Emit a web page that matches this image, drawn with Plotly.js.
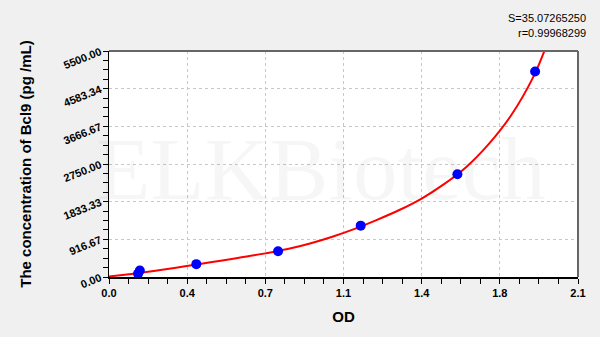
<!DOCTYPE html>
<html>
<head>
<meta charset="utf-8">
<script src="https://cdn.plot.ly/plotly-3.0.1.min.js"></script>
<style>html,body{margin:0;padding:0;background:#f0f0f0;}#chart{width:600px;height:337px;}</style>
</head>
<body>
<div id="chart"></div>
<script>
// Standard points (OD vs concentration)
const odValues = [0.130, 0.138, 0.391, 0.757, 1.127, 1.560, 1.908];
const concValues = [78.13, 156.25, 312.5, 625, 1250, 2500, 5000];

// Fitted curve
const fitOD = [0, 0.1, 0.2, 0.3, 0.4, 0.5, 0.6, 0.7, 0.8, 0.9, 1.0, 1.1, 1.2, 1.3, 1.4, 1.5, 1.6, 1.7, 1.8, 1.9, 1.96];
const fitConc = [12, 75, 145, 225, 312, 398, 485, 575, 680, 815, 980, 1170, 1390, 1630, 1910, 2260, 2680, 3234, 3930, 4870, 5650];

// Axis ticks
const xTickVals = [0, 0.35, 0.7, 1.05, 1.4, 1.75, 2.1];
const xTickText = ["0.0", "0.4", "0.7", "1.1", "1.4", "1.8", "2.1"];
const yTickVals = [0, 916.67, 1833.33, 2750, 3666.67, 4583.34, 5500];
const yTickText = ["0.00", "916.67", "1833.33", "2750.00", "3666.67", "4583.34", "5500.00"];

const statS = "S=35.07265250";
const statR = "r=0.99968299";

const FONT = "Liberation Sans, Arial, sans-serif";

const traces = [
  {
    x: fitOD, y: fitConc, type: "scatter", mode: "lines",
    line: {color: "#ff0000", width: 2, shape: "spline", smoothing: 1},
    hoverinfo: "skip"
  },
  {
    x: odValues, y: concValues, type: "scatter", mode: "markers",
    marker: {color: "#0000ff", size: 10}
  }
];

const layout = {
  width: 600, height: 337,
  paper_bgcolor: "#f0f0f0",
  plot_bgcolor: "#ffffff",
  showlegend: false,
  margin: {l: 109, r: 22, t: 51, b: 60},
  xaxis: {
    range: [0, 2.1],
    tickvals: xTickVals, ticktext: xTickText,
    ticks: "outside", ticklen: 5, tickcolor: "#000", tickwidth: 1,
    minor: {dtick: 0.0875, tick0: 0, ticks: "outside", ticklen: 5, tickcolor: "#000", showgrid: false},
    showgrid: true, gridcolor: "#c8c8c8", griddash: "dot", gridwidth: 1,
    showline: true, linecolor: "#000", linewidth: 1.5,
    zeroline: false,
    tickfont: {family: FONT, size: 11, color: "#000", weight: "bold"},
    title: {text: "OD", font: {family: FONT, size: 15, color: "#000", weight: "bold"}, standoff: 14}
  },
  yaxis: {
    range: [0, 5500],
    tickvals: yTickVals, ticktext: yTickText,
    tickangle: -22,
    ticks: "outside", ticklen: 5, tickcolor: "#000", tickwidth: 1,
    minor: {dtick: 229.1675, tick0: 0, ticks: "outside", ticklen: 5, tickcolor: "#000", showgrid: false},
    showgrid: true, gridcolor: "#c8c8c8", griddash: "dot", gridwidth: 1,
    showline: true, linecolor: "#000", linewidth: 1.5,
    zeroline: false,
    tickfont: {family: FONT, size: 11, color: "#000", weight: "bold"},
    title: {text: "The concentration of Bcl9 (pg /mL)", font: {family: FONT, size: 15, color: "#000", weight: "bold"}, standoff: 26}
  },
  shapes: [
    {type: "line", xref: "paper", yref: "paper", x0: 0, x1: 1, y0: 1, y1: 1, line: {color: "#666", width: 2}},
    {type: "line", xref: "paper", yref: "paper", x0: 1, x1: 1, y0: 0, y1: 1, line: {color: "#666", width: 2}}
  ],
  annotations: [
    {text: "ELKBiotech", xref: "paper", yref: "paper", x: 0.452, y: 0.48, showarrow: false,
     font: {family: "Liberation Serif, Times New Roman, serif", size: 89, color: "rgba(0,0,0,0.035)"}},
    {text: statS, xref: "paper", yref: "paper", x: 1.021, y: 1.146, xanchor: "right", yanchor: "middle", showarrow: false,
     font: {family: FONT, size: 11, color: "#000"}},
    {text: statR, xref: "paper", yref: "paper", x: 1.021, y: 1.08, xanchor: "right", yanchor: "middle", showarrow: false,
     font: {family: FONT, size: 11, color: "#000"}}
  ]
};

Plotly.newPlot("chart", traces, layout, {displayModeBar: false, staticPlot: true});
</script>
</body>
</html>
